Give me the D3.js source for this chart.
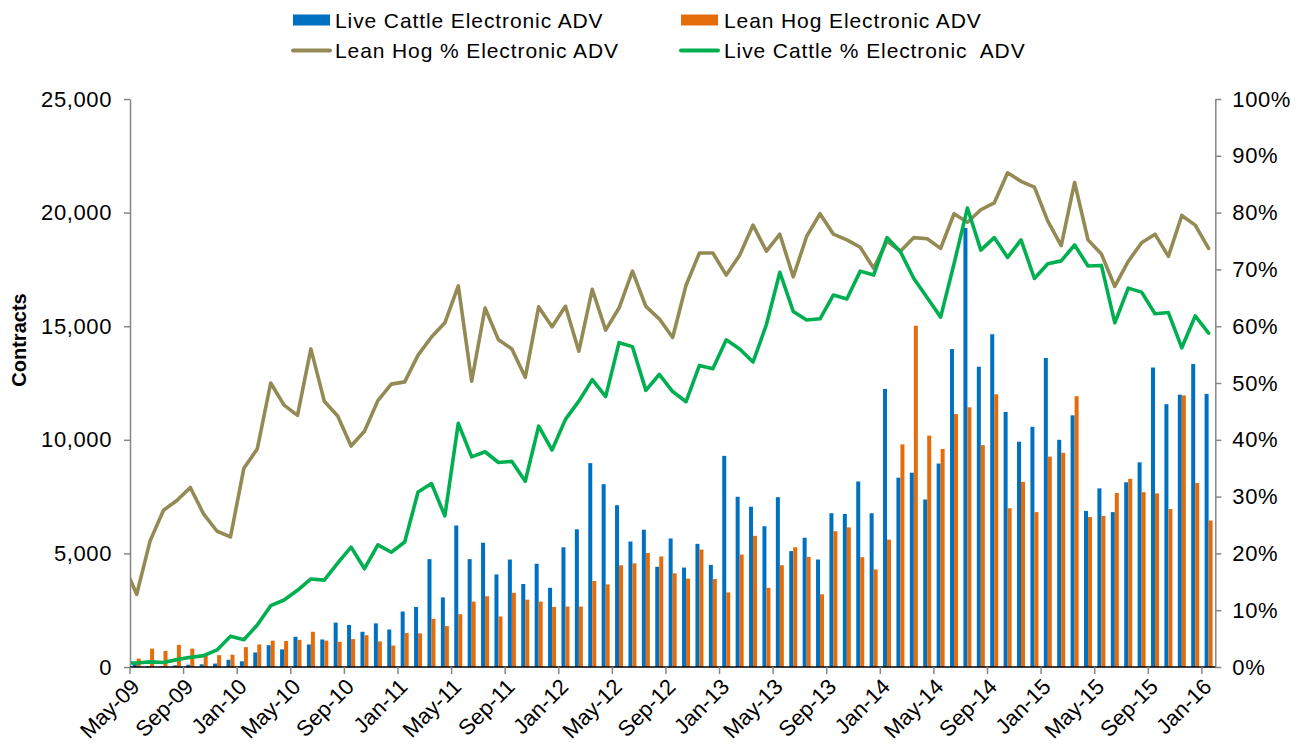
<!DOCTYPE html>
<html><head><meta charset="utf-8">
<script src="https://cdn.jsdelivr.net/npm/d3@7/dist/d3.min.js"></script>
<style>
body{margin:0;background:#fff}
svg{display:block}
text{font-family:"Liberation Sans",Arial,sans-serif;fill:#000}
</style>
</head><body>
<svg id="c" width="1309" height="750"></svg>
<script>
// ---------- DATA ----------
const months = [
"May-09","Jun-09","Jul-09","Aug-09","Sep-09","Oct-09","Nov-09","Dec-09",
"Jan-10","Feb-10","Mar-10","Apr-10","May-10","Jun-10","Jul-10","Aug-10","Sep-10","Oct-10","Nov-10","Dec-10",
"Jan-11","Feb-11","Mar-11","Apr-11","May-11","Jun-11","Jul-11","Aug-11","Sep-11","Oct-11","Nov-11","Dec-11",
"Jan-12","Feb-12","Mar-12","Apr-12","May-12","Jun-12","Jul-12","Aug-12","Sep-12","Oct-12","Nov-12","Dec-12",
"Jan-13","Feb-13","Mar-13","Apr-13","May-13","Jun-13","Jul-13","Aug-13","Sep-13","Oct-13","Nov-13","Dec-13",
"Jan-14","Feb-14","Mar-14","Apr-14","May-14","Jun-14","Jul-14","Aug-14","Sep-14","Oct-14","Nov-14","Dec-14",
"Jan-15","Feb-15","Mar-15","Apr-15","May-15","Jun-15","Jul-15","Aug-15","Sep-15","Oct-15","Nov-15","Dec-15",
"Jan-16"];
// month before the first category (its line point lies left of the plot and is clipped)
const priorMonth = "Apr-09";

const tickLabels = ["May-09","Sep-09","Jan-10","May-10","Sep-10","Jan-11","May-11","Sep-11","Jan-12","May-12",
"Sep-12","Jan-13","May-13","Sep-13","Jan-14","May-14","Sep-14","Jan-15","May-15","Sep-15","Jan-16"];

const leftTicks = [0,5000,10000,15000,20000,25000];
const rightTicks = [0,0.1,0.2,0.3,0.4,0.5,0.6,0.7,0.8,0.9,1.0];

const cattleADV = [150,30,30,70,100,120,150,320,250,640,
960,775,1330,993,1212,1953,1852,1549,1919,1650,
2441,2643,4747,3064,6229,4747,5471,4074,4731,3653,
4545,3485,5269,6061,8973,8047,7121,5522,6044,4411,
5657,4377,5421,4495,9293,7492,7054,6195,7475,5101,
5690,4731,6768,6734,8165,6768,12239,8333,8552,7374,
8956,13990,19327,13215,14646,11229,9916,10572,13603,10000,
11077,6869,7862,6818,8131,9007,13182,11566,11987,13333,
12020];

const hogADV = [370,808,707,976,808,505,522,540,875,993,
1160,1145,1195,1550,1160,1111,1229,1397,1128,943,
1498,1481,2121,1801,2323,2879,3114,2222,3266,2963,
2879,2643,2660,2660,3788,3636,4478,4562,5017,4865,
4125,3890,5168,3872,3283,4949,5774,3485,4478,5269,
4848,3199,5976,6145,4832,4293,5606,9798,15017,10185,
9596,11130,11430,9764,12003,6987,8148,6818,9259,9428,
11919,6599,6650,7660,8283,7694,7643,6953,11953,8098,
6448];

// percentages (fraction); first value is priorMonth
const hogPct = [0.182,
0.128,0.222,0.276,0.293,0.316,0.269,0.239,0.229,0.350,0.384,
0.500,0.461,0.443,0.560,0.468,0.442,0.389,0.415,0.469,0.498,
0.502,0.549,0.581,0.606,0.671,0.503,0.632,0.576,0.560,0.510,
0.634,0.599,0.635,0.556,0.665,0.593,0.632,0.697,0.635,0.613,
0.580,0.672,0.729,0.729,0.690,0.725,0.778,0.732,0.762,0.687,
0.758,0.798,0.762,0.752,0.739,0.702,0.750,0.732,0.756,0.754,
0.737,0.798,0.783,0.805,0.817,0.870,0.855,0.845,0.785,0.742,
0.853,0.752,0.727,0.670,0.714,0.747,0.762,0.723,0.795,0.778,
0.737];

const cattlePct = [0.007,
0.007,0.009,0.008,0.013,0.017,0.020,0.030,0.054,0.048,0.074,
0.108,0.118,0.135,0.155,0.153,0.183,0.211,0.173,0.215,0.202,
0.220,0.308,0.323,0.266,0.429,0.370,0.379,0.360,0.362,0.327,
0.424,0.382,0.436,0.468,0.506,0.476,0.571,0.564,0.487,0.515,
0.485,0.467,0.531,0.525,0.576,0.560,0.537,0.603,0.695,0.626,
0.611,0.613,0.655,0.648,0.697,0.690,0.756,0.731,0.684,0.650,
0.616,0.710,0.808,0.734,0.756,0.721,0.752,0.684,0.710,0.715,
0.743,0.706,0.707,0.606,0.667,0.660,0.622,0.624,0.562,0.618,
0.588];

const seriesNames = ["Live Cattle Electronic ADV","Lean Hog Electronic ADV",
"Lean Hog % Electronic ADV","Live Cattle % Electronic  ADV"];
const colors = {blue:"#0070C0", orange:"#E46C0A", tan:"#948A54", green:"#00B050", axis:"#868686"};

// ---------- LAYOUT ----------
const svg = d3.select("#c");
const L = 130, R = 1215.3, T = 99, B = 667;

const xBand = d3.scaleBand().domain(months).range([L, R]).padding(0);
const bw = xBand.bandwidth();
const lineMonths = [priorMonth].concat(months);
const xIdx = d3.scaleLinear().domain([0, months.length]).range([L, R]);
const xLine = m => xIdx(lineMonths.indexOf(m) - 1 + 0.5);

const yL = d3.scaleLinear().domain([0, 25000]).range([B, T]);
const yR = d3.scaleLinear().domain([0, 1]).range([B, T]);

svg.append("defs").append("clipPath").attr("id","clip")
  .append("rect").attr("x", L).attr("y", 0).attr("width", R - L).attr("height", B);

const plot = svg.append("g").attr("clip-path","url(#clip)");
const barW = 4;

plot.append("g").selectAll("rect").data(months).join("rect")
  .attr("x", m => xBand(m) + bw/2 - barW)
  .attr("width", barW)
  .attr("y", (m,i) => yL(cattleADV[i]))
  .attr("height", (m,i) => B - yL(cattleADV[i]))
  .attr("fill", colors.blue);

plot.append("g").selectAll("rect").data(months).join("rect")
  .attr("x", m => xBand(m) + bw/2)
  .attr("width", barW)
  .attr("y", (m,i) => yL(hogADV[i]))
  .attr("height", (m,i) => B - yL(hogADV[i]))
  .attr("fill", colors.orange);

function drawLine(vals, color){
  const line = d3.line().x((d,i) => xLine(lineMonths[i])).y(d => yR(d));
  plot.append("path").datum(vals).attr("d", line)
    .attr("fill","none").attr("stroke", color).attr("stroke-width", 3.6)
    .attr("stroke-linejoin","round").attr("stroke-linecap","round");
}
drawLine(hogPct, colors.tan);
drawLine(cattlePct, colors.green);

// ---------- AXES ----------
const fs = "22px";
const gl = svg.append("g").attr("transform", `translate(${L},0)`)
  .call(d3.axisLeft(yL).tickValues(leftTicks).tickFormat(d3.format(",")).tickSize(6).tickSizeOuter(0).tickPadding(12));
gl.select(".domain").attr("stroke", colors.axis).attr("stroke-width", 1.5);
gl.selectAll(".tick line").attr("stroke", colors.axis).attr("stroke-width", 1.5);
gl.selectAll(".tick text").style("font-size", fs).style("letter-spacing","0.6px").attr("fill","#000");

const gr = svg.append("g").attr("transform", `translate(${R},0)`)
  .call(d3.axisRight(yR).tickValues(rightTicks).tickFormat(d3.format(".0%")).tickSize(6).tickSizeOuter(0).tickPadding(11));
gr.select(".domain").attr("stroke", colors.axis).attr("stroke-width", 1.5);
gr.selectAll(".tick line").attr("stroke", colors.axis).attr("stroke-width", 1.5);
gr.selectAll(".tick text").style("font-size", fs).style("letter-spacing","0.6px").attr("fill","#000");

// bottom axis
const gb = svg.append("g");
gb.append("line").attr("x1", L).attr("x2", R).attr("y1", B).attr("y2", B)
  .attr("stroke", "#000").attr("stroke-width", 1.5);
gb.selectAll("line.tk").data(tickLabels).join("line").attr("class","tk")
  .attr("x1", m => xBand(m)).attr("x2", m => xBand(m))
  .attr("y1", B).attr("y2", B + 7).attr("stroke", colors.axis).attr("stroke-width", 1.5);
gb.selectAll("text").data(tickLabels).join("text")
  .attr("transform", m => `translate(${xBand(m) + 11},${B + 21}) rotate(-45)`)
  .attr("text-anchor","end")
  .style("font-size", fs)
  .text(m => m);

// y title
svg.append("text").attr("transform", `translate(26,340) rotate(-90)`)
  .attr("text-anchor","middle").style("font-size","20px").style("font-weight","bold")
  .text("Contracts");

// ---------- LEGEND ----------
const lg = svg.append("g").style("font-size","21px").style("letter-spacing","0.9px");
const items = [
  {name: seriesNames[0], color: colors.blue, type:"rect", x: 293, y: 20, tx: 335},
  {name: seriesNames[1], color: colors.orange, type:"rect", x: 681, y: 20, tx: 724},
  {name: seriesNames[2], color: colors.tan, type:"line", x: 293, y: 50, tx: 335},
  {name: seriesNames[3], color: colors.green, type:"line", x: 681, y: 50, tx: 724}
];
items.forEach(it => {
  if (it.type === "rect") {
    lg.append("rect").attr("x", it.x).attr("y", it.y - 5.5).attr("width", 37).attr("height", 11).attr("fill", it.color);
  } else {
    lg.append("line").attr("x1", it.x).attr("x2", it.x + 37).attr("y1", it.y + 0.5).attr("y2", it.y + 0.5)
      .attr("stroke", it.color).attr("stroke-width", 4).attr("stroke-linecap","round");
  }
  lg.append("text").attr("x", it.tx).attr("y", it.y).attr("dy","0.36em").style("white-space","pre")
    .attr("xml:space","preserve").text(it.name);
});
</script>
</body></html>
